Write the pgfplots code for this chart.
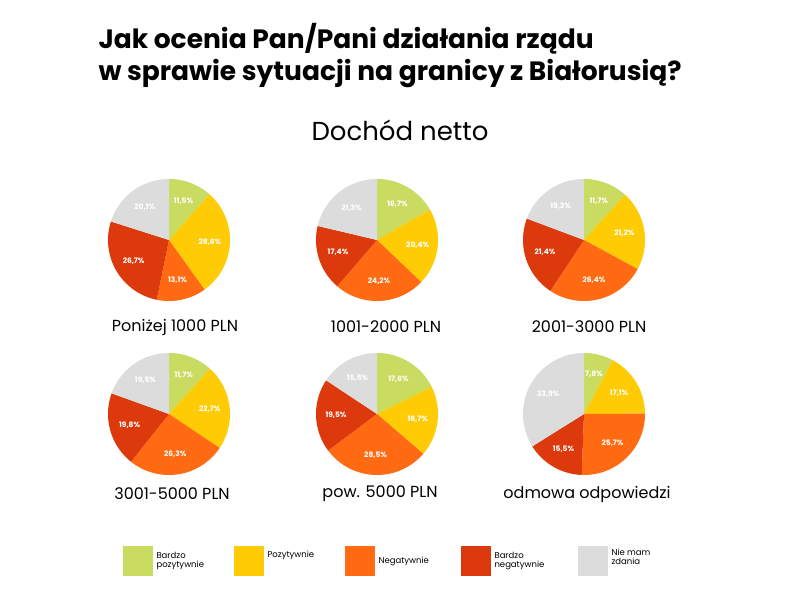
\documentclass[border=0pt]{standalone}
\usepackage{pgfplots}
\pgfplotsset{compat=1.18}
\usepackage{fontspec}
\setmainfont{Poppins}
\definecolor{cA}{HTML}{CADB62}
\definecolor{cB}{HTML}{FFCB05}
\definecolor{cC}{HTML}{FF6A13}
\definecolor{cD}{HTML}{DC3A0C}
\definecolor{cE}{HTML}{DCDCDC}
\newcommand\slice[6]{%
 \pgfmathsetmacro\aa{3.6*#3}\pgfmathsetmacro\bb{3.6*#4}%
 \pgfmathsetmacro\mm{(\aa+\bb)/2}%
 \pgfmathsetmacro\lx{#1+41*sin(\mm)}\pgfmathsetmacro\ly{#2+41*cos(\mm)}%
 \xdef\pts{(#1,#2)}%
 \foreach \k in {0,...,40}{%
   \pgfmathsetmacro\t{\aa+(\bb-\aa)*\k/40}%
   \pgfmathsetmacro\px{#1+61*sin(\t)}\pgfmathsetmacro\py{#2+61*cos(\t)}%
   \xdef\pts{\pts (\px,\py)}}%
 \edef\temp{\noexpand\addplot[fill=#5,draw=none] coordinates {\pts};
 \noexpand\node[font=\noexpand\bfseries\noexpand\fontsize{7.5}{8}\noexpand\selectfont,text=white] at (axis cs:\lx,\ly) {#6};}%
 \temp}
\newcommand\pie[7]{%
 \pgfmathsetmacro\sA{#3}\pgfmathsetmacro\sB{#3+#4}\pgfmathsetmacro\sC{#3+#4+#5}\pgfmathsetmacro\sD{#3+#4+#5+#6}%
 \edef\sa{\sA}\edef\sb{\sB}\edef\sc{\sC}\edef\sd{\sD}%
 \slice{#1}{#2}{0}{\sa}{cA}{\pctfmt{#3}}%
 \slice{#1}{#2}{\sa}{\sb}{cB}{\pctfmt{#4}}%
 \slice{#1}{#2}{\sb}{\sc}{cC}{\pctfmt{#5}}%
 \slice{#1}{#2}{\sc}{\sd}{cD}{\pctfmt{#6}}%
 \slice{#1}{#2}{\sd}{100}{cE}{\pctfmt{#7}}}
\def\pctfmt#1{\noexpand\pctx{#1}}
\def\pctx#1{\pctfix#1\relax}
\def\pctfix#1.#2\relax{#1,#2\%}
\begin{document}
\begin{tikzpicture}
\begin{axis}[x=1pt,y=1pt,xmin=0,xmax=800,ymin=0,ymax=593,hide axis,scale only axis,clip=false]
\addplot[draw=none,fill=white] coordinates {(0,0)(800,0)(800,593)(0,593)};
\pie{169}{353}{11.5}{28.6}{13.1}{26.7}{20.1}
\pie{377}{353}{16.7}{20.4}{24.2}{17.4}{21.3}
\pie{584}{353}{11.7}{21.2}{26.4}{21.4}{19.3}
\pie{169}{179}{11.7}{22.7}{26.3}{19.8}{19.5}
\pie{377}{179}{17.6}{18.7}{28.5}{19.5}{15.5}
\pie{584}{179}{7.8}{17.1}{25.7}{15.5}{33.9}
\node[anchor=west,font=\bfseries\fontsize{26.5}{32}\selectfont,align=left] at (axis cs:95,537) {Jak ocenia Pan/Pani działania rządu\\w sprawie sytuacji na granicy z Białorusią?};
\node[font=\fontsize{26}{28}\selectfont] at (axis cs:400,463) {Dochód netto};
\tikzset{cat/.style={font=\fontsize{16}{18}\selectfont}}
\node[cat] at (axis cs:175,266) {Poniżej 1000 PLN};
\node[cat] at (axis cs:386,266) {1001-2000 PLN};
\node[cat] at (axis cs:589,266) {2001-3000 PLN};
\node[cat] at (axis cs:172,99) {3001-5000 PLN};
\node[cat] at (axis cs:380,99) {pow. 5000 PLN};
\node[cat] at (axis cs:587,99) {odmowa odpowiedzi};
\addplot[fill=cA,draw=none] coordinates {(123,47)(153,47)(153,17)(123,17)};
\addplot[fill=cB,draw=none] coordinates {(234,47)(264,47)(264,17)(234,17)};
\addplot[fill=cC,draw=none] coordinates {(345,47)(375,47)(375,17)(345,17)};
\addplot[fill=cD,draw=none] coordinates {(461,47)(491,47)(491,17)(461,17)};
\addplot[fill=cE,draw=none] coordinates {(578,47)(608,47)(608,17)(578,17)};
\tikzset{lg/.style={anchor=west,font=\fontsize{8.5}{8.5}\selectfont,align=left}}
\node[lg] at (axis cs:153,32) {Bardzo\\pozytywnie};
\node[lg] at (axis cs:264,38) {Pozytywnie};
\node[lg] at (axis cs:375,32) {Negatywnie};
\node[lg] at (axis cs:491,32) {Bardzo\\negatywnie};
\node[lg] at (axis cs:608,36) {Nie mam\\zdania};
\end{axis}
\end{tikzpicture}
\end{document}
